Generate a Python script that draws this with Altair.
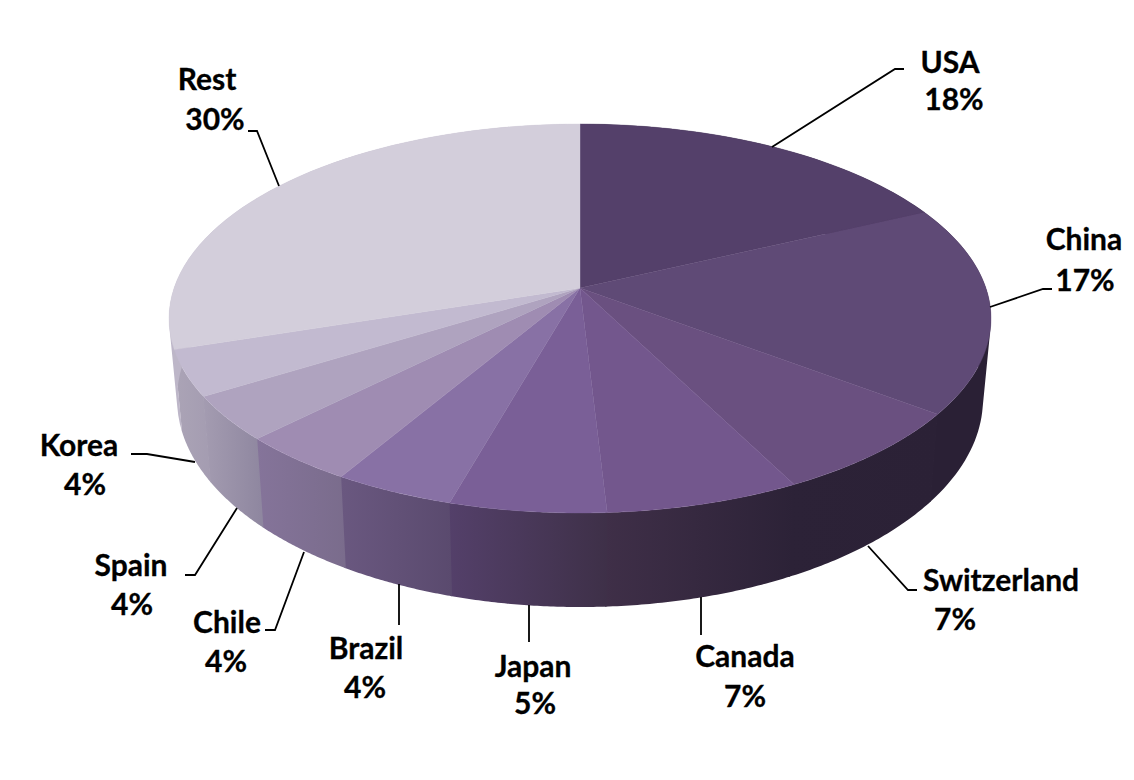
import math
import altair as alt
import pandas as pd

# ---- chart values ----
names = ["USA", "China", "Switzerland", "Canada", "Japan", "Brazil", "Chile", "Spain", "Korea", "Rest"]
labels = ["18%", "17%", "7%", "7%", "5%", "4%", "4%", "4%", "4%", "30%"]
# drawn shares, estimated from the slice boundaries
shares = [18.0, 17.3, 7.2, 6.6, 5.3, 4.1, 4.0, 3.7, 3.8, 30.0]

top_colors = ["#54406a", "#5f4a76", "#6a5080", "#73578d", "#7a5f97",
              "#8871a5", "#9f8cb2", "#afa3bf", "#c2bad0", "#d3cedb"]
wall_left = ["#2a2035", "#2a2035", "#2c2237", "#3f2f48", "#54406a",
             "#6a5880", "#85749a", "#a49cb1", "#aba4b6", "#bdb6c8"]
wall_right = ["#2a2035", "#2a2035", "#2b2136", "#2c2237", "#3e3048",
              "#5a4a6e", "#7a6c8c", "#8e869f", "#a49cb1", "#bdb6c8"]

# ---- hand placed label layout, in picture pixels ----
name_x = [950, 1084, 1001, 745, 533, 366, 227, 131, 79, 207]
name_y = [64, 241, 582, 658, 668, 650, 624, 567, 447, 81]
pct_x = [954, 1085, 955, 745, 535, 365, 226, 132, 85, 215]
pct_y = [101, 282, 621, 698, 705, 689, 663, 606, 486, 121]
leaders = [
    [(772, 147), (895, 69), (904, 69)],
    [(990, 307), (1043, 289), (1052, 289)],
    [(868, 546), (908, 590), (917, 590)],
    [(701, 597), (701, 635)],
    [(529, 605), (529, 642)],
    [(399, 584), (399, 625)],
    [(304, 552), (275, 630), (265, 630)],
    [(237, 508), (195, 575), (185, 575)],
    [(195, 462), (147, 454), (131, 454)],
    [(279, 186), (257, 131), (248, 131)],
]

# ---- perspective of the disc ----
CX, K = 580.0, 0.1568
TOP = dict(y0=288.0, A=189.7, B=405.9)
BOT = dict(y0=366.4, A=202.9, B=398.0)
PROJ = dict(type="identity", scale=1, translate=[-8, -8])


def rim(theta, d):
    X, Y = math.sin(theta), math.cos(theta)
    w = 1 + K * Y
    return [CX + d["B"] * X / w, d["y0"] - d["A"] * Y / w]


def arc(start, end, d, n=48):
    return [rim(start + (end - start) * i / n, d) for i in range(n + 1)]


walls, tops = [], []
total = sum(shares)
acc = 0.0
for name, s, tc, wl, wr in zip(names, shares, top_colors, wall_left, wall_right):
    a = 2 * math.pi * acc / total
    b = 2 * math.pi * (acc + s) / total
    acc += s
    # the wall is a band of small quads between the two rims
    upper = arc(a, b + 0.004, TOP)
    lower = arc(a, b + 0.004, BOT)
    quads = []
    for i in range(len(upper) - 1):
        q = [upper[i], upper[i + 1], lower[i + 1], lower[i], upper[i]]
        area = sum(q[j][0] * q[j + 1][1] - q[j + 1][0] * q[j][1] for j in range(4))
        quads.append([q if area > 0 else q[::-1]])
    wall = {"type": "Feature", "properties": {"name": name},
            "geometry": {"type": "MultiPolygon", "coordinates": quads}}
    walls.append(
        alt.Chart(alt.Data(values=[wall])).mark_geoshape(
            fill=alt.Gradient(gradient="linear", x1=0, x2=1, y1=0, y2=0,
                              stops=[alt.GradientStop(color=wl, offset=0),
                                     alt.GradientStop(color=wr, offset=1)]),
            strokeWidth=0,
        ).project(**PROJ)
    )
    ring = [[CX, TOP["y0"]]] + arc(a, b, TOP) + [[CX, TOP["y0"]]]
    top = {"type": "Feature", "properties": {"name": name},
           "geometry": {"type": "Polygon", "coordinates": [ring]}}
    tops.append(
        alt.Chart(alt.Data(values=[top])).mark_geoshape(
            fill=tc, stroke=tc, strokeWidth=0.4,
        ).project(**PROJ)
    )

x_enc = alt.X("x:Q", scale=alt.Scale(domain=[8, 1126], range=[0, 1118]), axis=None)
y_enc = alt.Y("y:Q", scale=alt.Scale(domain=[8, 772], range=[0, 764]), axis=None)

leader_rows = [{"name": n, "i": i, "x": p[0], "y": p[1]}
               for n, pts in zip(names, leaders) for i, p in enumerate(pts)]
leader_layer = alt.Chart(pd.DataFrame(leader_rows)).mark_line(
    color="black", strokeWidth=1.8, strokeJoin="miter"
).encode(x=x_enc, y=y_enc, detail="name:N", order="i:Q")

text_rows = [{"t": t, "x": x, "y": y} for t, x, y in
             list(zip(names, name_x, name_y)) + list(zip(labels, pct_x, pct_y))]
text_layer = alt.Chart(pd.DataFrame(text_rows)).mark_text(
    font="Lato", fontWeight="bold", fontSize=30, color="black",
    stroke="black", strokeWidth=0.3,
    align="center", baseline="middle"
).encode(x=x_enc, y=y_enc, text="t:N")

chart = alt.layer(*walls, *tops, leader_layer, text_layer).properties(
    width=1118, height=764, padding=0,
    autosize=alt.AutoSizeParams(type="none"),
    background="white",
).configure_view(stroke=None)

chart.save("out.html", embed_options={"renderer": "svg", "actions": False})
